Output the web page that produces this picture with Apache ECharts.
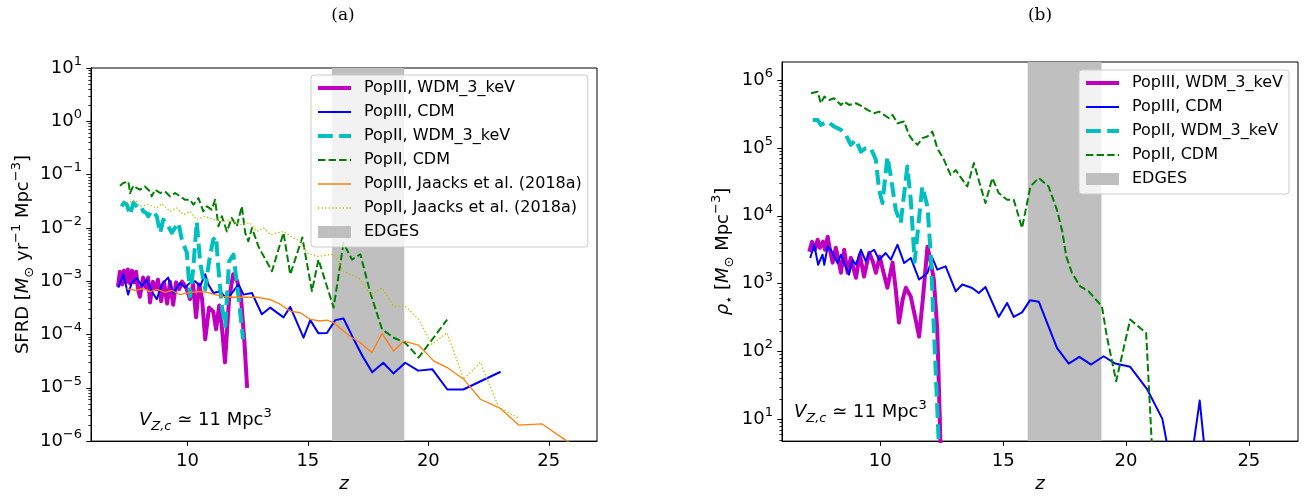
<!DOCTYPE html>
<html><head><meta charset="utf-8">
<script src="https://cdn.jsdelivr.net/npm/echarts@6/dist/echarts.min.js"></script>
<style>html,body{margin:0;padding:0;background:#fff}#c{width:1311px;height:498px}</style>
</head><body><div id="c"></div>
<script>
// ---------------- data ----------------
const xTicks = [10, 15, 20, 25];
const sfrdTickExps = [-6, -5, -4, -3, -2, -1, 0, 1];
const rhoTickExps = [1, 2, 3, 4, 5, 6];
const edgesRange = [16, 19];

// (a) SFRD [Msun/yr/Mpc^3]
const zA_p3wdm = [7.12,7.20,7.29,7.37,7.45,7.53,7.62,7.70,7.79,7.87,7.95,8.03,8.16,8.28,8.37,8.45,8.57,8.70,8.78,8.91,9.03,9.16,9.28,9.41,9.53,9.66,9.78,9.95,10.11,10.24,10.36,10.49,10.61,10.74,10.90,11.07,11.19,11.32,11.44,11.56,11.73,11.90,12.07,12.23,12.36,12.48];
const sfrd_p3wdm = [7.9e-4,1.51e-3,8.7e-4,1.58e-3,9.5e-4,1.66e-3,9.1e-4,1.58e-3,9.5e-4,1.51e-3,7.1e-4,5.1e-4,1.17e-3,7.6e-4,1.17e-3,4.0e-4,9.8e-4,7.1e-4,1.07e-3,4.2e-4,9.5e-4,3.8e-4,9.8e-4,3.6e-4,9.5e-4,7.1e-4,9.8e-4,7.6e-4,4.6e-4,8.7e-4,2.1e-4,8.7e-4,4.6e-4,8.1e-5,3.2e-4,2.7e-4,1.26e-4,3.5e-4,1.26e-4,3.0e-5,4.6e-4,1.35e-3,1.0e-3,4.6e-4,8.1e-5,1.0e-5];

const zA_p3cdm = [7.13,7.34,7.54,7.69,7.90,8.11,8.31,8.52,8.73,8.94,9.20,9.42,9.70,9.90,10.11,10.32,10.53,10.74,10.87,11.08,11.36,11.64,11.91,12.12,12.33,12.68,13.09,13.44,13.99,14.27,14.82,15.10,15.44,15.79,16.14,16.48,16.84,17.26,17.67,18.13,18.55,19.04,19.58,20.16,20.79,21.45,23.0];
const sfrd_p3cdm = [7.6e-4,1.35e-3,5.6e-4,9.3e-4,1.15e-3,8.1e-4,1.07e-3,6.5e-4,4.6e-4,8.7e-4,1.17e-3,6.0e-4,9.3e-4,7.6e-4,9.3e-4,1.0e-3,8.1e-4,1.35e-3,8.7e-4,6.0e-4,6.5e-4,4.6e-4,6.5e-4,8.7e-4,5.6e-4,6.0e-4,2.4e-4,3.2e-4,2.1e-4,3.3e-4,8.7e-5,1.86e-4,1.05e-4,1.07e-4,1.86e-4,2.0e-4,9.3e-5,4.0e-5,1.95e-5,2.95e-5,1.86e-5,2.95e-5,2.1e-5,2.24e-5,9.3e-6,9.3e-6,2.0e-5];

const zA_p2wdm = [7.27,7.37,7.49,7.62,7.76,7.87,7.96,8.08,8.17,8.28,8.38,8.49,8.59,8.73,8.87,9.00,9.12,9.21,9.35,9.49,9.63,9.77,9.98,10.11,10.24,10.39,10.53,10.74,10.90,11.07,11.19,11.28,11.43,11.57,11.73,11.91,12.12,12.31];
const sfrd_p2wdm = [0.0254,0.0297,0.0273,0.0177,0.0294,0.0261,0.0237,0.0250,0.0204,0.0193,0.0165,0.0202,0.0204,0.0165,0.0081,0.0143,0.0120,0.0107,0.0081,0.0101,0.0124,0.0060,0.0034,5.2e-4,1.66e-3,0.0131,2.24e-3,7.0e-4,2.34e-3,0.0060,6.9e-3,1.89e-3,3.4e-4,1.44e-4,2.34e-3,3.16e-3,5.2e-4,8.1e-5];

const zA_p2cdm = [7.20,7.34,7.55,7.62,7.76,7.90,8.03,8.24,8.45,8.52,8.66,8.87,9.07,9.28,9.49,9.70,9.90,10.11,10.25,10.46,10.66,10.81,11.01,11.15,11.29,11.43,11.64,11.84,12.05,12.26,12.40,12.53,12.68,12.95,13.09,13.51,13.99,14.27,14.77,15.17,15.44,16.07,16.48,16.83,17.18,17.59,18.08,18.56,19.04,19.60,20.78];
const sfrd_p2cdm = [0.0619,0.0695,0.0745,0.0452,0.0619,0.0560,0.0521,0.0600,0.0484,0.0390,0.0521,0.0452,0.0484,0.0390,0.0452,0.0390,0.0338,0.0338,0.0273,0.0364,0.0204,0.0254,0.0220,0.0338,0.0107,0.0165,0.0086,0.0154,0.0107,0.0254,0.0081,0.0056,0.0100,0.0045,0.0034,1.54e-3,0.0081,1.34e-3,6.6e-3,6.5e-4,2.55e-3,3.2e-4,5.2e-3,2.55e-3,3.2e-3,6.1e-4,1.25e-4,8.7e-5,7.0e-5,3.7e-5,1.9e-4];

const zA_p3jaacks = [7.48,7.83,8.16,8.45,8.74,9.07,9.36,9.70,10.11,10.53,10.82,11.15,11.48,11.90,12.48,12.90,13.44,13.85,14.27,14.68,15.10,15.51,15.79,16.07,16.48,16.80,17.18,17.66,18.08,18.56,18.97,19.60,20.22,20.78,21.47,22.16,22.99,23.75,24.72,25.76,26.0];
const sfrd_p3jaacks = [7.3e-4,6.7e-4,7.3e-4,6.4e-4,7.0e-4,6.15e-4,6.7e-4,5.6e-4,6.15e-4,6.4e-4,6.15e-4,5.6e-4,5.2e-4,5.0e-4,5.0e-4,5.0e-4,4.5e-4,3.7e-4,2.75e-4,2.56e-4,1.92e-4,1.79e-4,1.86e-4,1.67e-4,1.16e-4,8.9e-5,7.0e-5,4.6e-5,1.05e-4,4.9e-5,7.5e-5,6.3e-5,3.2e-5,2.4e-5,1.45e-5,6.1e-6,4.1e-6,2.0e-6,2.1e-6,1.0e-6,8.5e-7];

const zA_p2jaacks = [7.48,7.69,7.83,8.03,8.38,8.73,8.94,9.28,9.56,9.83,10.11,10.39,10.74,11.08,11.50,11.77,12.19,12.60,12.88,13.16,13.44,13.99,14.27,14.68,14.96,15.38,16.07,16.48,17.10,17.59,18.08,18.56,19.04,19.60,20.15,20.78,21.47,22.16,22.92,23.75];
const sfrd_p2jaacks = [0.0294,0.0315,0.0338,0.0254,0.0273,0.0237,0.0285,0.0204,0.0237,0.0177,0.0204,0.0143,0.0165,0.0143,0.0133,0.0143,0.0115,0.0124,0.0086,0.0100,0.0075,0.0086,0.0070,0.0056,0.0034,0.0029,0.0032,1.54e-3,1.16e-3,5.6e-4,7.5e-4,3.4e-4,3.4e-4,1.92e-4,6.5e-5,1.08e-4,1.45e-5,3.0e-5,4.3e-6,2.7e-6];

// (b) rho_* [Msun/Mpc^3]
const zB_p3wdm = [7.11,7.22,7.34,7.45,7.54,7.67,7.75,7.86,7.95,8.06,8.19,8.31,8.40,8.53,8.67,8.80,8.88,9.01,9.17,9.34,9.55,9.70,9.82,9.98,10.10,10.29,10.50,10.63,10.76,10.91,11.04,11.24,11.44,11.58,11.73,11.92,12.05,12.18,12.32,12.48];
const rho_p3wdm = [2960,4150,3160,4440,3380,4150,3160,4910,3160,2040,3380,2110,1450,3160,1450,2410,1840,1220,2670,1270,2860,2110,1450,2500,1610,873,2040,817,267,582,873,644,296,166,582,3500,2110,1150,211,1.8];

const zB_p3cdm = [7.15,7.31,7.47,7.65,7.72,7.86,7.99,8.12,8.26,8.40,8.53,8.73,8.87,9.01,9.21,9.41,9.55,9.75,9.95,10.22,10.43,10.70,10.97,11.24,11.58,11.92,12.12,12.32,12.66,13.07,13.34,13.74,14.01,14.28,14.82,15.16,15.43,15.77,16.09,16.45,16.79,17.19,17.67,18.10,18.58,19.09,19.56,20.17,20.85,21.48,22.0,22.5,23.0,23.5];
const rho_p3cdm = [2390,3750,1900,2670,1900,3540,3160,2520,2010,2670,2010,1360,2250,1900,3160,2130,2830,3160,2250,2830,2250,3750,2010,2390,1150,1440,2390,1610,1800,770,970,865,730,893,324,520,324,378,568,543,264,113,66.6,83.6,64.4,85.3,66.6,59.6,28.3,10.2,1.0,1.0,19,0.3];

const zB_p2wdm = [7.25,7.45,7.58,7.86,8.12,8.40,8.60,8.80,9.01,9.21,9.41,9.61,9.82,9.95,10.09,10.29,10.43,10.63,10.83,11.10,11.24,11.40,11.71,11.92,12.05,12.42];
const rho_p2wdm = [2.58e5,2.58e5,2.18e5,2.44e5,2.06e5,1.84e5,1.55e5,1.11e5,1.31e5,8.8e4,9.9e4,9.9e4,6.7e4,2.4e4,1.54e4,7.4e4,3.8e4,1.22e4,7.8e3,5.3e4,1.72e4,2.1e3,2.7e4,1.37e4,2.8e3,2];

const zB_p2cdm = [7.18,7.45,7.58,7.72,7.92,8.12,8.40,8.53,8.73,9.01,9.28,9.48,9.75,9.95,10.15,10.36,10.50,10.70,10.97,11.17,11.31,11.51,11.71,11.92,12.12,12.32,12.59,12.86,13.07,13.34,13.54,13.81,14.08,14.28,14.56,14.82,15.16,15.43,15.77,16.11,16.45,16.85,17.19,17.41,17.57,17.80,18.14,18.48,19.02,19.22,19.60,20.17,20.82,21.14];
const rho_p2cdm = [6.37e5,6.73e5,4.54e5,5.68e5,5.08e5,5.38e5,4.29e5,4.80e5,4.29e5,4.54e5,4.05e5,3.62e5,3.24e5,3.42e5,3.06e5,2.73e5,3.06e5,2.31e5,2.44e5,1.55e5,1.31e5,1.11e5,1.39e5,1.47e5,1.74e5,9.9e4,6.7e4,4.0e4,4.7e4,3.4e4,2.7e4,5.96e4,2.7e4,1.54e4,3.6e4,2.16e4,1.72e4,1.72e4,6.6e3,2.7e4,3.6e4,2.7e4,1.22e4,5.8e3,2.5e3,1440,910,770,463,168,36.6,296,188,1];

// ---------------- chart ----------------
const FONT = 'DejaVu Sans';
const BLACK = '#000';
function mathRich(size) {
  const lh = Math.round(size * 1.45);
  const s = Math.round(size * 0.7);
  return {
    n: {fontFamily: FONT, fontSize: size, lineHeight: lh, color: BLACK},
    i: {fontFamily: FONT, fontSize: size, lineHeight: lh, fontStyle: 'italic', color: BLACK},
    sup: {fontFamily: FONT, fontSize: s, lineHeight: s, verticalAlign: 'top', color: BLACK},
    sub: {fontFamily: FONT, fontSize: s, lineHeight: s, verticalAlign: 'bottom', color: BLACK},
    subi: {fontFamily: FONT, fontSize: s, lineHeight: s, verticalAlign: 'bottom', fontStyle: 'italic', color: BLACK}
  };
}
function powLabel(v) {
  const n = Math.round(v);
  return '{n|10}{sup|' + (n < 0 ? '\u2212' + (-n) : String(n)) + '}';
}
function minorTicks(lo, hi) {
  const out = [];
  for (let n = Math.floor(lo) - 1; n <= Math.ceil(hi); n++) {
    for (let k = 2; k <= 9; k++) {
      const v = n + Math.log10(k);
      if (v > lo && v < hi) out.push(v);
    }
  }
  return out;
}
const yA = [-6, 1];
const yB = [Math.log10(4.8), Math.log10(1.84e6)];
const xRange = [6, 27];

function xAxisCfg(gi) {
  return {
    type: 'value', gridIndex: gi, min: xRange[0], max: xRange[1],
    axisLine: {show: true, onZero: false, lineStyle: {color: BLACK, width: 1}},
    axisTick: {show: true, customValues: xTicks, length: 4.7, lineStyle: {color: BLACK, width: 1}},
    axisLabel: {customValues: xTicks, fontFamily: FONT, fontSize: 18, color: BLACK, margin: 11},
    splitLine: {show: false},
    name: 'z', nameLocation: 'middle', nameGap: 30,
    nameTextStyle: {fontFamily: FONT, fontSize: 18, fontStyle: 'italic', color: BLACK}
  };
}
function yMajorCfg(gi, range, exps, name, gap) {
  return {
    type: 'value', gridIndex: gi, position: 'left', min: range[0], max: range[1],
    axisLine: {show: true, onZero: false, lineStyle: {color: BLACK, width: 1}},
    axisTick: {show: true, customValues: exps, length: 4.7, lineStyle: {color: BLACK, width: 1}},
    axisLabel: {customValues: exps, formatter: powLabel, rich: mathRich(18), margin: 9},
    splitLine: {show: false},
    name: name, nameLocation: 'middle', nameGap: gap, nameRotate: 90,
    nameTextStyle: {rich: mathRich(18), fontFamily: FONT, fontSize: 18, lineHeight: 26, color: BLACK}
  };
}
function yMinorCfg(gi, range) {
  return {
    type: 'value', gridIndex: gi, position: 'left', min: range[0], max: range[1],
    axisLine: {show: false},
    axisTick: {show: true, customValues: minorTicks(range[0], range[1]), length: 2.7, lineStyle: {color: BLACK, width: 0.8}},
    axisLabel: {show: false}, splitLine: {show: false}
  };
}
function line(name, xi, yi, zs, vs, color, width, type) {
  return {
    type: 'line', name: name, xAxisIndex: xi, yAxisIndex: yi,
    data: zs.map((z, i) => [z, Math.log10(vs[i])]),
    symbol: 'none', showSymbol: false, clip: true, animation: false,
    color: color,
    lineStyle: {color: color, width: width, type: type, join: 'round'},
    z: 3
  };
}
function edges(xi, yi) {
  return {
    type: 'bar', name: 'EDGES', xAxisIndex: xi, yAxisIndex: yi, data: [],
    color: '#bfbfbf', itemStyle: {color: '#bfbfbf'}, z: 1, animation: false,
    markArea: {silent: true, itemStyle: {color: '#bfbfbf', opacity: 1},
      data: [[{xAxis: edgesRange[0]}, {xAxis: edgesRange[1]}]]}
  };
}
const C = {m: '#bf00bf', b: '#0000ff', c: '#00bfbf', g: '#008000', o: '#ff7f0e', y: '#bfbf00'};
const DASH_C = [14.8, 6.4], DASH_G = [7.4, 3.2], DOT_Y = [1.33, 2.2];

const N1 = 'PopIII, WDM_3_keV', N2 = 'PopIII, CDM', N3 = 'PopII, WDM_3_keV', N4 = 'PopII, CDM',
      N5 = 'PopIII, Jaacks et al. (2018a)', N6 = 'PopII, Jaacks et al. (2018a)', N7 = 'EDGES';

const legendBase = {
  orient: 'vertical', itemWidth: 33, itemHeight: 12, itemGap: 8,
  backgroundColor: 'rgba(255,255,255,0.8)', borderColor: '#cccccc', borderWidth: 1, borderRadius: 3,
  padding: [5, 6, 7, 5],
  textStyle: {fontFamily: FONT, fontSize: 16, color: BLACK, lineHeight: 16, padding: [0, 0, 0, 8]},
  selectedMode: false
};
const hide = {opacity: 0, borderWidth: 0};
const legItems = {};
legItems[N1] = {name: N1, lineStyle: {width: 4}, itemStyle: hide};
legItems[N2] = {name: N2, lineStyle: {width: 2}, itemStyle: hide};
legItems[N3] = {name: N3, lineStyle: {width: 4}, itemStyle: hide};
legItems[N4] = {name: N4, lineStyle: {width: 2}, itemStyle: hide};
legItems[N5] = {name: N5, lineStyle: {width: 1.33}, itemStyle: hide};
legItems[N6] = {name: N6, lineStyle: {width: 1.33}, itemStyle: hide};
legItems[N7] = {name: N7, icon: 'rect', itemStyle: {color: '#bfbfbf'}};

const vRich = mathRich(18);
const option = {
  backgroundColor: '#fff',
  animation: false,
  grid: [
    {left: 91, top: 68, width: 506, height: 374, show: true, borderColor: BLACK, borderWidth: 1, backgroundColor: 'transparent'},
    {left: 782, top: 62, width: 516, height: 380, show: true, borderColor: BLACK, borderWidth: 1, backgroundColor: 'transparent'}
  ],
  xAxis: [xAxisCfg(0), xAxisCfg(1)],
  yAxis: [
    yMajorCfg(0, yA, sfrdTickExps, '{n|SFRD [}{i|M}{sub|\u2299}{n| yr}{sup|\u22121}{n| Mpc}{sup|\u22123}{n|]}', 54),
    yMinorCfg(0, yA),
    yMajorCfg(1, yB, rhoTickExps, '{i|\u03c1}{sub|\u22c6}{n| [}{i|M}{sub|\u2299}{n| Mpc}{sup|\u22123}{n|]}', 46),
    yMinorCfg(1, yB)
  ],
  legend: [
    Object.assign({}, legendBase, {left: 311, top: 75, data: [N1, N2, N3, N4, N5, N6, N7].map(n => legItems[n])}),
    Object.assign({}, legendBase, {left: 1079, top: 70, data: [N1, N2, N3, N4, N7].map(n => legItems[n])})
  ],
  graphic: [
    {type: 'text', x: 343, y: 16, style: {text: '(a)', fontFamily: 'DejaVu Serif', fontSize: 17, fill: BLACK, align: 'center', verticalAlign: 'middle'}},
    {type: 'text', x: 1040, y: 16, style: {text: '(b)', fontFamily: 'DejaVu Serif', fontSize: 17, fill: BLACK, align: 'center', verticalAlign: 'middle'}},
    {type: 'text', x: 139, y: 420, z: 10, style: {text: '{i|V}{subi|Z,c}{n| \u2243 11 Mpc}{sup|3}', rich: vRich, align: 'left', verticalAlign: 'middle'}},
    {type: 'text', x: 794, y: 412, z: 10, style: {text: '{i|V}{subi|Z,c}{n| \u2243 11 Mpc}{sup|3}', rich: vRich, align: 'left', verticalAlign: 'middle'}}
  ],
  series: [
    edges(0, 0),
    line(N1, 0, 0, zA_p3wdm, sfrd_p3wdm, C.m, 4, 'solid'),
    line(N2, 0, 0, zA_p3cdm, sfrd_p3cdm, C.b, 2, 'solid'),
    line(N3, 0, 0, zA_p2wdm, sfrd_p2wdm, C.c, 4, DASH_C),
    line(N4, 0, 0, zA_p2cdm, sfrd_p2cdm, C.g, 2, DASH_G),
    line(N5, 0, 0, zA_p3jaacks, sfrd_p3jaacks, C.o, 1.33, 'solid'),
    line(N6, 0, 0, zA_p2jaacks, sfrd_p2jaacks, C.y, 1.33, DOT_Y),
    edges(1, 2),
    line(N1, 1, 2, zB_p3wdm, rho_p3wdm, C.m, 4, 'solid'),
    line(N2, 1, 2, zB_p3cdm, rho_p3cdm, C.b, 2, 'solid'),
    line(N3, 1, 2, zB_p2wdm, rho_p2wdm, C.c, 4, DASH_C),
    line(N4, 1, 2, zB_p2cdm, rho_p2cdm, C.g, 2, DASH_G)
  ]
};
const chart = echarts.init(document.getElementById('c'), null, {renderer: 'canvas'});
chart.setOption(option);
</script>
</body></html>
